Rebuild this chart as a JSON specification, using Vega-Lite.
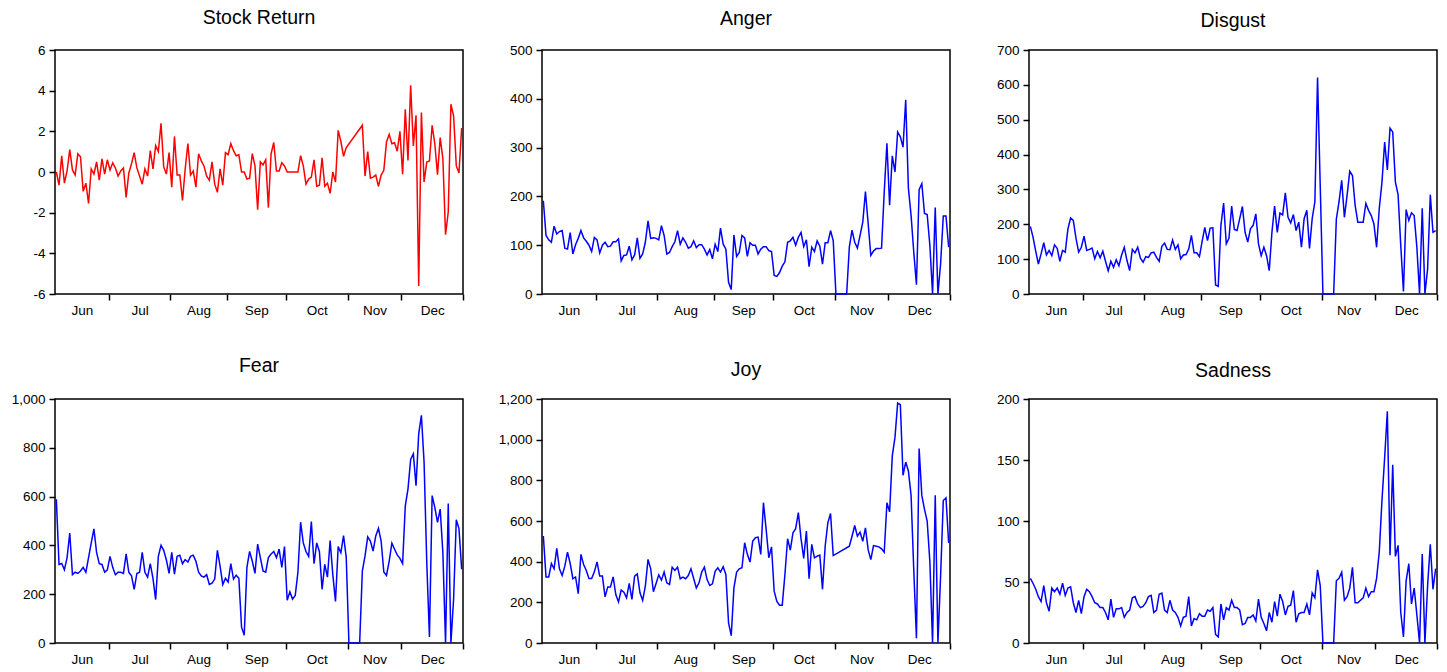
{
"$schema": "https://vega.github.io/schema/vega-lite/v6.json",
"background": "white",
"padding": {"left": 5, "top": 6, "right": 5, "bottom": 5},
"config": {
  "font": "Liberation Sans",
  "view": {"stroke": "black", "strokeWidth": 1.5},
  "axis": {"labelFont": "Liberation Sans", "labelFontSize": 13.5, "labelColor": "black", "tickColor": "black", "tickWidth": 1.5, "domain": false, "grid": false, "title": null},
  "title": {"font": "Liberation Sans", "fontSize": 19.5, "fontWeight": "normal", "color": "black", "frame": "group", "anchor": "middle"},
  "line": {"strokeWidth": 1.5, "invalid": "filter"}
},
"datasets": {"d": [
{"i":0,"ret":0.0,"anger":191,"disgust":194,"fear":589,"joy":526,"sadness":53},
{"i":1,"ret":-0.65,"anger":120,"disgust":163,"fear":322,"joy":325,"sadness":49},
{"i":2,"ret":0.8,"anger":111,"disgust":123,"fear":326,"joy":325,"sadness":44},
{"i":3,"ret":-0.55,"anger":106,"disgust":86,"fear":300,"joy":391,"sadness":38},
{"i":4,"ret":0.05,"anger":139,"disgust":115,"fear":350,"joy":365,"sadness":34},
{"i":5,"ret":1.1,"anger":123,"disgust":147,"fear":450,"joy":465,"sadness":47},
{"i":6,"ret":0.1,"anger":128,"disgust":112,"fear":280,"joy":365,"sadness":33},
{"i":7,"ret":-0.15,"anger":130,"disgust":125,"fear":290,"joy":332,"sadness":26},
{"i":8,"ret":0.9,"anger":94,"disgust":110,"fear":285,"joy":378,"sadness":45},
{"i":9,"ret":0.75,"anger":92,"disgust":141,"fear":295,"joy":447,"sadness":42},
{"i":10,"ret":-0.95,"anger":126,"disgust":131,"fear":310,"joy":391,"sadness":45},
{"i":11,"ret":-0.55,"anger":82,"disgust":94,"fear":290,"joy":316,"sadness":40},
{"i":12,"ret":-1.55,"anger":101,"disgust":125,"fear":350,"joy":325,"sadness":49},
{"i":13,"ret":0.15,"anger":114,"disgust":120,"fear":410,"joy":243,"sadness":39},
{"i":14,"ret":-0.1,"anger":130,"disgust":187,"fear":468,"joy":436,"sadness":45},
{"i":15,"ret":0.5,"anger":115,"disgust":218,"fear":370,"joy":386,"sadness":46},
{"i":16,"ret":-0.4,"anger":108,"disgust":211,"fear":325,"joy":357,"sadness":33},
{"i":17,"ret":0.65,"anger":100,"disgust":160,"fear":322,"joy":317,"sadness":25},
{"i":18,"ret":-0.1,"anger":87,"disgust":120,"fear":290,"joy":317,"sadness":35},
{"i":19,"ret":0.6,"anger":116,"disgust":134,"fear":300,"joy":350,"sadness":24},
{"i":20,"ret":0.1,"anger":111,"disgust":166,"fear":355,"joy":399,"sadness":38},
{"i":21,"ret":0.45,"anger":84,"disgust":125,"fear":310,"joy":329,"sadness":44},
{"i":22,"ret":0.2,"anger":100,"disgust":128,"fear":280,"joy":329,"sadness":42},
{"i":23,"ret":-0.2,"anger":106,"disgust":132,"fear":290,"joy":227,"sadness":38},
{"i":24,"ret":0.05,"anger":97,"disgust":101,"fear":290,"joy":276,"sadness":33},
{"i":25,"ret":0.2,"anger":98,"disgust":122,"fear":285,"joy":276,"sadness":32},
{"i":26,"ret":-1.25,"anger":107,"disgust":104,"fear":365,"joy":325,"sadness":29},
{"i":27,"ret":-0.05,"anger":107,"disgust":123,"fear":290,"joy":238,"sadness":29},
{"i":28,"ret":0.4,"anger":113,"disgust":94,"fear":275,"joy":202,"sadness":25},
{"i":29,"ret":0.95,"anger":68,"disgust":67,"fear":220,"joy":260,"sadness":19},
{"i":30,"ret":0.2,"anger":79,"disgust":94,"fear":285,"joy":250,"sadness":36},
{"i":31,"ret":-0.2,"anger":80,"disgust":77,"fear":290,"joy":222,"sadness":21},
{"i":32,"ret":-0.6,"anger":98,"disgust":98,"fear":372,"joy":293,"sadness":28},
{"i":33,"ret":0.15,"anger":70,"disgust":81,"fear":290,"joy":214,"sadness":28},
{"i":34,"ret":-0.2,"anger":80,"disgust":112,"fear":270,"joy":329,"sadness":29},
{"i":35,"ret":1.05,"anger":115,"disgust":134,"fear":325,"joy":340,"sadness":21},
{"i":36,"ret":0.15,"anger":73,"disgust":96,"fear":265,"joy":247,"sadness":25},
{"i":37,"ret":1.3,"anger":82,"disgust":67,"fear":178,"joy":210,"sadness":27},
{"i":38,"ret":1.0,"anger":106,"disgust":128,"fear":355,"joy":280,"sadness":37},
{"i":39,"ret":2.4,"anger":150,"disgust":118,"fear":400,"joy":411,"sadness":38},
{"i":40,"ret":0.25,"anger":114,"disgust":134,"fear":380,"joy":365,"sadness":32},
{"i":41,"ret":-0.1,"anger":115,"disgust":103,"fear":340,"joy":252,"sadness":29},
{"i":42,"ret":0.95,"anger":114,"disgust":91,"fear":285,"joy":293,"sadness":30},
{"i":43,"ret":-0.75,"anger":111,"disgust":107,"fear":372,"joy":335,"sadness":33},
{"i":44,"ret":1.75,"anger":140,"disgust":105,"fear":282,"joy":309,"sadness":38},
{"i":45,"ret":-0.15,"anger":120,"disgust":118,"fear":355,"joy":349,"sadness":39},
{"i":46,"ret":-0.15,"anger":82,"disgust":120,"fear":360,"joy":296,"sadness":25},
{"i":47,"ret":-1.4,"anger":85,"disgust":105,"fear":325,"joy":288,"sadness":27},
{"i":48,"ret":0.15,"anger":97,"disgust":94,"fear":342,"joy":373,"sadness":40},
{"i":49,"ret":1.4,"anger":107,"disgust":137,"fear":332,"joy":357,"sadness":41},
{"i":50,"ret":-0.15,"anger":130,"disgust":146,"fear":355,"joy":373,"sadness":27},
{"i":51,"ret":0.05,"anger":102,"disgust":128,"fear":360,"joy":316,"sadness":25},
{"i":52,"ret":-0.75,"anger":115,"disgust":127,"fear":335,"joy":324,"sadness":35},
{"i":53,"ret":0.9,"anger":106,"disgust":155,"fear":290,"joy":316,"sadness":27},
{"i":54,"ret":0.55,"anger":94,"disgust":128,"fear":275,"joy":332,"sadness":25},
{"i":55,"ret":0.3,"anger":97,"disgust":141,"fear":270,"joy":365,"sadness":21},
{"i":56,"ret":-0.2,"anger":109,"disgust":101,"fear":280,"joy":317,"sadness":14},
{"i":57,"ret":-0.4,"anger":95,"disgust":112,"fear":240,"joy":271,"sadness":21},
{"i":58,"ret":0.5,"anger":101,"disgust":113,"fear":245,"joy":296,"sadness":22},
{"i":59,"ret":-0.6,"anger":101,"disgust":129,"fear":262,"joy":349,"sadness":38},
{"i":60,"ret":-1.0,"anger":92,"disgust":168,"fear":380,"joy":373,"sadness":14},
{"i":61,"ret":0.15,"anger":80,"disgust":118,"fear":315,"joy":312,"sadness":20},
{"i":62,"ret":-0.65,"anger":91,"disgust":118,"fear":240,"joy":283,"sadness":19},
{"i":63,"ret":0.95,"anger":72,"disgust":107,"fear":265,"joy":291,"sadness":24},
{"i":64,"ret":0.85,"anger":102,"disgust":151,"fear":250,"joy":353,"sadness":22},
{"i":65,"ret":1.4,"anger":87,"disgust":191,"fear":325,"joy":370,"sadness":22},
{"i":66,"ret":1.05,"anger":135,"disgust":153,"fear":262,"joy":349,"sadness":27},
{"i":67,"ret":0.8,"anger":102,"disgust":189,"fear":278,"joy":375,"sadness":26},
{"i":68,"ret":0.85,"anger":92,"disgust":190,"fear":265,"joy":337,"sadness":29},
{"i":69,"ret":0.0,"anger":24,"disgust":26,"fear":65,"joy":99,"sadness":7},
{"i":70,"ret":0.0,"anger":9,"disgust":22,"fear":32,"joy":36,"sadness":5},
{"i":71,"ret":-0.35,"anger":121,"disgust":197,"fear":310,"joy":271,"sadness":32},
{"i":72,"ret":-0.3,"anger":77,"disgust":261,"fear":375,"joy":349,"sadness":19},
{"i":73,"ret":0.9,"anger":85,"disgust":144,"fear":335,"joy":365,"sadness":29},
{"i":74,"ret":0.3,"anger":120,"disgust":160,"fear":285,"joy":370,"sadness":27},
{"i":75,"ret":-1.85,"anger":115,"disgust":252,"fear":405,"joy":493,"sadness":35},
{"i":76,"ret":0.5,"anger":77,"disgust":185,"fear":350,"joy":436,"sadness":29},
{"i":77,"ret":0.35,"anger":105,"disgust":182,"fear":295,"joy":398,"sadness":29},
{"i":78,"ret":0.6,"anger":100,"disgust":216,"fear":290,"joy":501,"sadness":27},
{"i":79,"ret":-1.75,"anger":100,"disgust":251,"fear":350,"joy":518,"sadness":15},
{"i":80,"ret":0.9,"anger":82,"disgust":177,"fear":365,"joy":521,"sadness":16},
{"i":81,"ret":1.45,"anger":92,"disgust":149,"fear":375,"joy":436,"sadness":21},
{"i":82,"ret":0.05,"anger":97,"disgust":187,"fear":350,"joy":690,"sadness":21},
{"i":83,"ret":0.05,"anger":97,"disgust":197,"fear":385,"joy":559,"sadness":23},
{"i":84,"ret":0.45,"anger":89,"disgust":230,"fear":310,"joy":419,"sadness":18},
{"i":85,"ret":0.3,"anger":87,"disgust":144,"fear":395,"joy":473,"sadness":36},
{"i":86,"ret":0,"anger":38,"disgust":110,"fear":175,"joy":255,"sadness":21},
{"i":87,"ret":0,"anger":36,"disgust":134,"fear":210,"joy":205,"sadness":16},
{"i":88,"ret":0,"anger":44,"disgust":110,"fear":180,"joy":186,"sadness":10},
{"i":89,"ret":0,"anger":57,"disgust":67,"fear":195,"joy":186,"sadness":25},
{"i":90,"ret":0,"anger":66,"disgust":177,"fear":290,"joy":337,"sadness":17},
{"i":91,"ret":0.8,"anger":106,"disgust":252,"fear":495,"joy":513,"sadness":34},
{"i":92,"ret":0.3,"anger":109,"disgust":177,"fear":410,"joy":457,"sadness":22},
{"i":93,"ret":-0.6,"anger":116,"disgust":232,"fear":375,"joy":542,"sadness":40},
{"i":94,"ret":-0.35,"anger":100,"disgust":227,"fear":355,"joy":562,"sadness":34},
{"i":95,"ret":-0.25,"anger":116,"disgust":290,"fear":498,"joy":641,"sadness":23},
{"i":96,"ret":0.6,"anger":126,"disgust":220,"fear":325,"joy":513,"sadness":30},
{"i":97,"ret":-0.7,"anger":97,"disgust":204,"fear":410,"joy":416,"sadness":31},
{"i":98,"ret":-0.65,"anger":111,"disgust":228,"fear":375,"joy":551,"sadness":43},
{"i":99,"ret":0.7,"anger":56,"disgust":182,"fear":220,"joy":316,"sadness":17},
{"i":100,"ret":-0.7,"anger":96,"disgust":206,"fear":322,"joy":485,"sadness":24},
{"i":101,"ret":-0.55,"anger":87,"disgust":134,"fear":270,"joy":419,"sadness":25},
{"i":102,"ret":-1.05,"anger":109,"disgust":216,"fear":420,"joy":427,"sadness":25},
{"i":103,"ret":0.0,"anger":98,"disgust":240,"fear":280,"joy":432,"sadness":32},
{"i":104,"ret":-0.5,"anger":61,"disgust":131,"fear":170,"joy":264,"sadness":23},
{"i":105,"ret":2.05,"anger":105,"disgust":216,"fear":395,"joy":477,"sadness":41},
{"i":106,"ret":1.5,"anger":105,"disgust":264,"fear":370,"joy":592,"sadness":37},
{"i":107,"ret":0.77,"anger":130,"disgust":621,"fear":440,"joy":637,"sadness":60},
{"i":108,"ret":1.2,"anger":109,"disgust":310,"fear":350,"joy":430,"sadness":47},
{"i":109,"ret":null,"anger":0,"disgust":0,"fear":0,"joy":null,"sadness":0},
{"i":110,"ret":null,"anger":0,"disgust":0,"fear":0,"joy":null,"sadness":0},
{"i":111,"ret":null,"anger":0,"disgust":0,"fear":0,"joy":null,"sadness":0},
{"i":112,"ret":null,"anger":0,"disgust":0,"fear":0,"joy":null,"sadness":0},
{"i":113,"ret":null,"anger":0,"disgust":0,"fear":0,"joy":null,"sadness":0},
{"i":114,"ret":2.3,"anger":96,"disgust":215,"fear":295,"joy":476,"sadness":51},
{"i":115,"ret":-0.2,"anger":131,"disgust":265,"fear":357,"joy":525,"sadness":53},
{"i":116,"ret":1.0,"anger":106,"disgust":326,"fear":435,"joy":578,"sadness":58},
{"i":117,"ret":-0.3,"anger":94,"disgust":220,"fear":418,"joy":525,"sadness":35},
{"i":118,"ret":-0.25,"anger":120,"disgust":283,"fear":377,"joy":545,"sadness":38},
{"i":119,"ret":-0.15,"anger":147,"disgust":352,"fear":439,"joy":500,"sadness":45},
{"i":120,"ret":-0.7,"anger":210,"disgust":340,"fear":470,"joy":566,"sadness":62},
{"i":121,"ret":-0.15,"anger":145,"disgust":254,"fear":418,"joy":459,"sadness":33},
{"i":122,"ret":0.08,"anger":79,"disgust":206,"fear":291,"joy":410,"sadness":33},
{"i":123,"ret":1.48,"anger":88,"disgust":206,"fear":277,"joy":479,"sadness":35},
{"i":124,"ret":1.85,"anger":93,"disgust":206,"fear":336,"joy":476,"sadness":37},
{"i":125,"ret":1.39,"anger":93,"disgust":260,"fear":409,"joy":473,"sadness":45},
{"i":126,"ret":1.44,"anger":94,"disgust":240,"fear":384,"joy":463,"sadness":38},
{"i":127,"ret":1.02,"anger":209,"disgust":225,"fear":361,"joy":446,"sadness":42},
{"i":128,"ret":2.0,"anger":309,"disgust":201,"fear":347,"joy":690,"sadness":42},
{"i":129,"ret":-0.11,"anger":182,"disgust":134,"fear":325,"joy":645,"sadness":53},
{"i":130,"ret":3.08,"anger":283,"disgust":246,"fear":562,"joy":920,"sadness":75},
{"i":131,"ret":0.57,"anger":250,"disgust":321,"fear":631,"joy":1011,"sadness":117},
{"i":132,"ret":4.26,"anger":332,"disgust":436,"fear":752,"joy":1180,"sadness":152},
{"i":133,"ret":1.28,"anger":322,"disgust":356,"fear":775,"joy":1172,"sadness":190},
{"i":134,"ret":2.79,"anger":301,"disgust":476,"fear":645,"joy":825,"sadness":72},
{"i":135,"ret":-5.6,"anger":398,"disgust":465,"fear":857,"joy":890,"sadness":146},
{"i":136,"ret":2.92,"anger":217,"disgust":321,"fear":933,"joy":846,"sadness":71},
{"i":137,"ret":-0.49,"anger":161,"disgust":285,"fear":741,"joy":726,"sadness":80},
{"i":138,"ret":0.49,"anger":86,"disgust":139,"fear":330,"joy":360,"sadness":25},
{"i":139,"ret":0.54,"anger":19,"disgust":7,"fear":25,"joy":23,"sadness":5},
{"i":140,"ret":2.3,"anger":214,"disgust":242,"fear":604,"joy":956,"sadness":51},
{"i":141,"ret":1.39,"anger":226,"disgust":211,"fear":556,"joy":726,"sadness":65},
{"i":142,"ret":-0.13,"anger":165,"disgust":233,"fear":494,"joy":657,"sadness":32},
{"i":143,"ret":1.69,"anger":163,"disgust":225,"fear":549,"joy":599,"sadness":45},
{"i":144,"ret":0.66,"anger":100,"disgust":134,"fear":370,"joy":400,"sadness":23},
{"i":145,"ret":-3.08,"anger":0,"disgust":0,"fear":0,"joy":0,"sadness":0},
{"i":146,"ret":-1.97,"anger":177,"disgust":246,"fear":572,"joy":726,"sadness":73},
{"i":147,"ret":3.33,"anger":0,"disgust":0,"fear":0,"joy":0,"sadness":0},
{"i":148,"ret":2.76,"anger":62,"disgust":72,"fear":180,"joy":330,"sadness":47},
{"i":149,"ret":0.3,"anger":160,"disgust":285,"fear":505,"joy":701,"sadness":81},
{"i":150,"ret":-0.05,"anger":160,"disgust":177,"fear":469,"joy":714,"sadness":44},
{"i":151,"ret":2.16,"anger":96,"disgust":182,"fear":302,"joy":492,"sadness":61}
]},
"data": {"name": "d"},
"columns": 3,
"spacing": {"row": 36, "column": 26},
"concat": [
{"title": {"text": "Stock Return", "offset": 15}, "width": 408, "height": 244,
 "mark": {"type": "line", "color": "#ff0000"},
 "encoding": {
  "x": {"field": "i", "type": "quantitative", "scale": {"domain": [-0.5, 151.5], "nice": false, "zero": false},
        "axis": {"values": [9.5,19.5,31,42.5,53,63.5,74.5,85.5,97,108.5,118.5,128.5,140,151.5], "labelExpr": "datum.value==9.5?'Jun':datum.value==31?'Jul':datum.value==53?'Aug':datum.value==74.5?'Sep':datum.value==97?'Oct':datum.value==118.5?'Nov':datum.value==140?'Dec':''", "tickOpacity": {"condition": {"test": "indexof([9.5,31,53,74.5,97,118.5,140], datum.value) >= 0", "value": 0}, "value": 1}, "tickSize": 6, "labelPadding": 3, "labelOverlap": false, "labelFlush": false, "labelBound": false}},
  "y": {"field": "ret", "type": "quantitative", "scale": {"domain": [-6, 6], "nice": false, "zero": false},
        "axis": {"values": [-6,-4,-2,0,2,4,6], "labelExpr": "datum.value < 0 ? '-' + abs(datum.value) : '' + datum.value", "tickSize": 6, "labelPadding": 4, "minExtent": 49, "maxExtent": 49}}
 }},
{"title": {"text": "Anger", "offset": 14}, "width": 408, "height": 244,
 "mark": {"type": "line", "color": "#0000ff"},
 "encoding": {
  "x": {"field": "i", "type": "quantitative", "scale": {"domain": [-0.5, 151.5], "nice": false, "zero": false},
        "axis": {"values": [9.5,19.5,31,42.5,53,63.5,74.5,85.5,97,108.5,118.5,128.5,140,151.5], "labelExpr": "datum.value==9.5?'Jun':datum.value==31?'Jul':datum.value==53?'Aug':datum.value==74.5?'Sep':datum.value==97?'Oct':datum.value==118.5?'Nov':datum.value==140?'Dec':''", "tickOpacity": {"condition": {"test": "indexof([9.5,31,53,74.5,97,118.5,140], datum.value) >= 0", "value": 0}, "value": 1}, "tickSize": 6, "labelPadding": 3, "labelOverlap": false, "labelFlush": false, "labelBound": false}},
  "y": {"field": "anger", "type": "quantitative", "scale": {"domain": [0, 500], "nice": false},
        "axis": {"values": [0,100,200,300,400,500], "format": ",.0f", "tickSize": 6, "labelPadding": 4, "minExtent": 49, "maxExtent": 49}}
 }},
{"title": {"text": "Disgust", "offset": 12}, "width": 408, "height": 244,
 "mark": {"type": "line", "color": "#0000ff"},
 "encoding": {
  "x": {"field": "i", "type": "quantitative", "scale": {"domain": [-0.5, 151.5], "nice": false, "zero": false},
        "axis": {"values": [9.5,19.5,31,42.5,53,63.5,74.5,85.5,97,108.5,118.5,128.5,140,151.5], "labelExpr": "datum.value==9.5?'Jun':datum.value==31?'Jul':datum.value==53?'Aug':datum.value==74.5?'Sep':datum.value==97?'Oct':datum.value==118.5?'Nov':datum.value==140?'Dec':''", "tickOpacity": {"condition": {"test": "indexof([9.5,31,53,74.5,97,118.5,140], datum.value) >= 0", "value": 0}, "value": 1}, "tickSize": 6, "labelPadding": 3, "labelOverlap": false, "labelFlush": false, "labelBound": false}},
  "y": {"field": "disgust", "type": "quantitative", "scale": {"domain": [0, 700], "nice": false},
        "axis": {"values": [0,100,200,300,400,500,600,700], "format": ",.0f", "tickSize": 6, "labelPadding": 4, "minExtent": 49, "maxExtent": 49}}
 }},
{"title": {"text": "Fear", "offset": 16}, "width": 408, "height": 244,
 "mark": {"type": "line", "color": "#0000ff"},
 "encoding": {
  "x": {"field": "i", "type": "quantitative", "scale": {"domain": [-0.5, 151.5], "nice": false, "zero": false},
        "axis": {"values": [9.5,19.5,31,42.5,53,63.5,74.5,85.5,97,108.5,118.5,128.5,140,151.5], "labelExpr": "datum.value==9.5?'Jun':datum.value==31?'Jul':datum.value==53?'Aug':datum.value==74.5?'Sep':datum.value==97?'Oct':datum.value==118.5?'Nov':datum.value==140?'Dec':''", "tickOpacity": {"condition": {"test": "indexof([9.5,31,53,74.5,97,118.5,140], datum.value) >= 0", "value": 0}, "value": 1}, "tickSize": 6, "labelPadding": 3, "labelOverlap": false, "labelFlush": false, "labelBound": false}},
  "y": {"field": "fear", "type": "quantitative", "scale": {"domain": [0, 1000], "nice": false},
        "axis": {"values": [0,200,400,600,800,1000], "format": ",.0f", "tickSize": 6, "labelPadding": 4, "minExtent": 49, "maxExtent": 49}}
 }},
{"title": {"text": "Joy", "offset": 12}, "width": 408, "height": 244,
 "mark": {"type": "line", "color": "#0000ff"},
 "encoding": {
  "x": {"field": "i", "type": "quantitative", "scale": {"domain": [-0.5, 151.5], "nice": false, "zero": false},
        "axis": {"values": [9.5,19.5,31,42.5,53,63.5,74.5,85.5,97,108.5,118.5,128.5,140,151.5], "labelExpr": "datum.value==9.5?'Jun':datum.value==31?'Jul':datum.value==53?'Aug':datum.value==74.5?'Sep':datum.value==97?'Oct':datum.value==118.5?'Nov':datum.value==140?'Dec':''", "tickOpacity": {"condition": {"test": "indexof([9.5,31,53,74.5,97,118.5,140], datum.value) >= 0", "value": 0}, "value": 1}, "tickSize": 6, "labelPadding": 3, "labelOverlap": false, "labelFlush": false, "labelBound": false}},
  "y": {"field": "joy", "type": "quantitative", "scale": {"domain": [0, 1200], "nice": false},
        "axis": {"values": [0,200,400,600,800,1000,1200], "format": ",.0f", "tickSize": 6, "labelPadding": 4, "minExtent": 49, "maxExtent": 49}}
 }},
{"title": {"text": "Sadness", "offset": 11}, "width": 408, "height": 244,
 "mark": {"type": "line", "color": "#0000ff"},
 "encoding": {
  "x": {"field": "i", "type": "quantitative", "scale": {"domain": [-0.5, 151.5], "nice": false, "zero": false},
        "axis": {"values": [9.5,19.5,31,42.5,53,63.5,74.5,85.5,97,108.5,118.5,128.5,140,151.5], "labelExpr": "datum.value==9.5?'Jun':datum.value==31?'Jul':datum.value==53?'Aug':datum.value==74.5?'Sep':datum.value==97?'Oct':datum.value==118.5?'Nov':datum.value==140?'Dec':''", "tickOpacity": {"condition": {"test": "indexof([9.5,31,53,74.5,97,118.5,140], datum.value) >= 0", "value": 0}, "value": 1}, "tickSize": 6, "labelPadding": 3, "labelOverlap": false, "labelFlush": false, "labelBound": false}},
  "y": {"field": "sadness", "type": "quantitative", "scale": {"domain": [0, 200], "nice": false},
        "axis": {"values": [0,50,100,150,200], "format": ",.0f", "tickSize": 6, "labelPadding": 4, "minExtent": 49, "maxExtent": 49}}
 }}
]
}
